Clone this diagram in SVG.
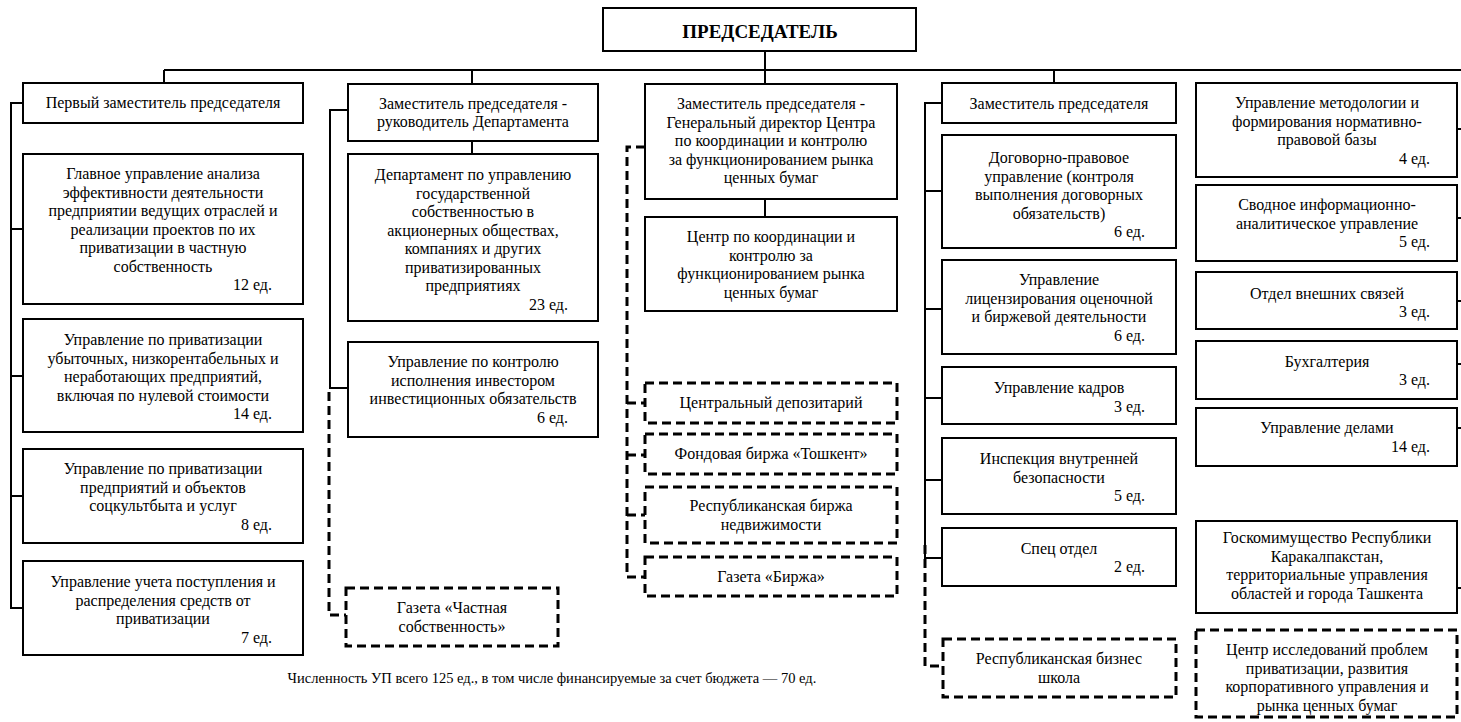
<svg xmlns="http://www.w3.org/2000/svg" width="1461" height="722" viewBox="0 0 1461 722">
<style>
  .b{fill:#fff;stroke:#000;stroke-width:2}
  .d{fill:#fff;stroke:#000;stroke-width:3;stroke-dasharray:9 5}
  .t{font-family:"Liberation Serif","Times New Roman",serif;font-size:16px;fill:#000;text-anchor:middle}
  .r{text-anchor:end}
  .h{font-weight:bold;font-size:19px}
  .f{font-size:14.5px}
  .c{fill:none;stroke:#000;stroke-width:2}
  .cd{fill:none;stroke:#000;stroke-width:3;stroke-dasharray:9 5}
</style>
<rect width="1461" height="722" fill="#fff"/>
<g id="connectors">
  <path class="c" d="M164,70 H1461 M765,51 V84 M164,70 V83 M472,70 V84 M1054,70 V83 M472,141 V154 M765,199 V217"/>
  <path class="c" d="M23,103 H11 V608 H23 M11,229 H23 M11,376 H23 M11,496 H23"/>
  <path class="c" d="M348,110 H330 V388 H348"/>
  <path class="cd" d="M329,392 V615 H346"/>
  <path class="cd" d="M645,147 H627 V577 H645 M627,403 H645 M627,455 H645 M627,515 H645"/>
  <path class="c" d="M942,103 H925 V558 H942 M925,191 H942 M925,309 H942 M925,398 H942 M925,480 H942"/>
  <path class="cd" d="M925,545 V666 H943"/>
  <path class="c" d="M1457,129 H1461 M1457,218 H1461 M1457,301 H1461 M1457,364 H1461 M1457,428 H1461 M1457,588 H1461"/>
</g>
<g id="chair"><rect class="b" x="603" y="8" width="313" height="43"/><text class="t h" x="760" y="38">ПРЕДСЕДАТЕЛЬ</text></g>

<g id="c1a"><rect class="b" x="23" y="83" width="280" height="40"/><text class="t" x="163" y="108">Первый заместитель председателя</text></g>
<g id="c1b"><rect class="b" x="23" y="154" width="280" height="150"/>
  <text class="t" x="163" y="179">Главное управление анализа</text>
  <text class="t" x="163" y="197.5">эффективности деятельности</text>
  <text class="t" x="163" y="216">предприятии ведущих отраслей и</text>
  <text class="t" x="163" y="234.5">реализации проектов по их</text>
  <text class="t" x="163" y="253">приватизации в частную</text>
  <text class="t" x="163" y="271.5">собственность</text>
  <text class="t r" x="272" y="290">12 ед.</text></g>
<g id="c1c"><rect class="b" x="23" y="319" width="280" height="113"/>
  <text class="t" x="163" y="345">Управление по приватизации</text>
  <text class="t" x="163" y="363.5">убыточных, низкорентабельных и</text>
  <text class="t" x="163" y="382">неработающих предприятий,</text>
  <text class="t" x="163" y="400.5">включая по нулевой стоимости</text>
  <text class="t r" x="272" y="419">14 ед.</text></g>
<g id="c1d"><rect class="b" x="23" y="449" width="280" height="94"/>
  <text class="t" x="163" y="474">Управление по приватизации</text>
  <text class="t" x="163" y="492.5">предприятий и объектов</text>
  <text class="t" x="163" y="511">соцкультбыта и услуг</text>
  <text class="t r" x="272" y="529.5">8 ед.</text></g>
<g id="c1e"><rect class="b" x="23" y="561" width="280" height="94"/>
  <text class="t" x="163" y="587">Управление учета поступления и</text>
  <text class="t" x="163" y="605.5">распределения средств от</text>
  <text class="t" x="163" y="624">приватизации</text>
  <text class="t r" x="272" y="642.5">7 ед.</text></g>

<g id="c2a"><rect class="b" x="348" y="84" width="250" height="57"/>
  <text class="t" x="473" y="108.5">Заместитель председателя -</text>
  <text class="t" x="473" y="127">руководитель Департамента</text></g>
<g id="c2b"><rect class="b" x="348" y="154" width="250" height="167"/>
  <text class="t" x="473" y="180">Департамент по управлению</text>
  <text class="t" x="473" y="198.5">государственной</text>
  <text class="t" x="473" y="217">собственностью в</text>
  <text class="t" x="473" y="235.5">акционерных обществах,</text>
  <text class="t" x="473" y="254">компаниях и других</text>
  <text class="t" x="473" y="272.5">приватизированных</text>
  <text class="t" x="473" y="291">предприятиях</text>
  <text class="t r" x="568" y="309.5">23 ед.</text></g>
<g id="c2c"><rect class="b" x="348" y="342" width="250" height="95"/>
  <text class="t" x="473" y="367">Управление по контролю</text>
  <text class="t" x="473" y="385.5">исполнения инвестором</text>
  <text class="t" x="473" y="404">инвестиционных обязательств</text>
  <text class="t r" x="568" y="422.5">6 ед.</text></g>
<g id="c2d"><rect class="d" x="346" y="588" width="212" height="58"/>
  <text class="t" x="452" y="613">Газета «Частная</text>
  <text class="t" x="452" y="631.5">собственность»</text></g>

<g id="c3a"><rect class="b" x="645" y="84" width="252" height="115"/>
  <text class="t" x="771" y="109">Заместитель председателя -</text>
  <text class="t" x="771" y="127.5">Генеральный директор Центра</text>
  <text class="t" x="771" y="146">по координации и контролю</text>
  <text class="t" x="771" y="164.5">за функционированием рынка</text>
  <text class="t" x="771" y="183">ценных бумаг</text></g>
<g id="c3b"><rect class="b" x="645" y="217" width="252" height="94"/>
  <text class="t" x="771" y="242">Центр по координации и</text>
  <text class="t" x="771" y="260.5">контролю за</text>
  <text class="t" x="771" y="279">функционированием рынка</text>
  <text class="t" x="771" y="297.5">ценных бумаг</text></g>
<g id="c3c"><rect class="d" x="645" y="383" width="252" height="40"/>
  <text class="t" x="771" y="408">Центральный депозитарий</text></g>
<g id="c3d"><rect class="d" x="645" y="434" width="252" height="40"/>
  <text class="t" x="771" y="459">Фондовая биржа «Тошкент»</text></g>
<g id="c3e"><rect class="d" x="645" y="487" width="252" height="56"/>
  <text class="t" x="771" y="511">Республиканская биржа</text>
  <text class="t" x="771" y="529.5">недвижимости</text></g>
<g id="c3f"><rect class="d" x="645" y="557" width="252" height="39"/>
  <text class="t" x="771" y="582">Газета «Биржа»</text></g>

<g id="c4a"><rect class="b" x="942" y="83" width="234" height="40"/>
  <text class="t" x="1059" y="108.5">Заместитель председателя</text></g>
<g id="c4b"><rect class="b" x="942" y="135" width="234" height="113"/>
  <text class="t" x="1059" y="163">Договорно-правовое</text>
  <text class="t" x="1059" y="181.5">управление (контроля</text>
  <text class="t" x="1059" y="200">выполнения договорных</text>
  <text class="t" x="1059" y="218.5">обязательств)</text>
  <text class="t r" x="1145" y="237">6 ед.</text></g>
<g id="c4c"><rect class="b" x="942" y="260" width="234" height="94"/>
  <text class="t" x="1059" y="285">Управление</text>
  <text class="t" x="1059" y="303.5">лицензирования оценочной</text>
  <text class="t" x="1059" y="322">и биржевой деятельности</text>
  <text class="t r" x="1145" y="340.5">6 ед.</text></g>
<g id="c4d"><rect class="b" x="942" y="367" width="234" height="57"/>
  <text class="t" x="1059" y="393">Управление кадров</text>
  <text class="t r" x="1145" y="411.5">3 ед.</text></g>
<g id="c4e"><rect class="b" x="942" y="438" width="234" height="76"/>
  <text class="t" x="1059" y="464">Инспекция внутренней</text>
  <text class="t" x="1059" y="482.5">безопасности</text>
  <text class="t r" x="1145" y="501">5 ед.</text></g>
<g id="c4f"><rect class="b" x="942" y="528" width="234" height="58"/>
  <text class="t" x="1059" y="553.5">Спец отдел</text>
  <text class="t r" x="1145" y="572">2 ед.</text></g>
<g id="c4g"><rect class="d" x="943" y="639" width="233" height="58"/>
  <text class="t" x="1059" y="664">Республиканская бизнес</text>
  <text class="t" x="1059" y="682.5">школа</text></g>

<g id="c5a"><rect class="b" x="1196" y="83" width="261" height="94"/>
  <text class="t" x="1327" y="108">Управление методологии и</text>
  <text class="t" x="1327" y="126.5">формирования нормативно-</text>
  <text class="t" x="1327" y="145">правовой базы</text>
  <text class="t r" x="1430" y="163.5">4 ед.</text></g>
<g id="c5b"><rect class="b" x="1196" y="185" width="261" height="76"/>
  <text class="t" x="1327" y="210">Сводное информационно-</text>
  <text class="t" x="1327" y="228.5">аналитическое управление</text>
  <text class="t r" x="1430" y="247">5 ед.</text></g>
<g id="c5c"><rect class="b" x="1196" y="272" width="261" height="57"/>
  <text class="t" x="1327" y="298.5">Отдел внешних связей</text>
  <text class="t r" x="1430" y="317">3 ед.</text></g>
<g id="c5d"><rect class="b" x="1196" y="341" width="261" height="58"/>
  <text class="t" x="1327" y="366.5">Бухгалтерия</text>
  <text class="t r" x="1430" y="385">3 ед.</text></g>
<g id="c5e"><rect class="b" x="1196" y="408" width="261" height="58"/>
  <text class="t" x="1327" y="433">Управление делами</text>
  <text class="t r" x="1430" y="451.5">14 ед.</text></g>
<g id="c5f"><rect class="b" x="1196" y="521" width="261" height="92"/>
  <text class="t" x="1327" y="543">Госкомимущество Республики</text>
  <text class="t" x="1327" y="561.5">Каракалпакстан,</text>
  <text class="t" x="1327" y="580">территориальные управления</text>
  <text class="t" x="1327" y="598.5">областей и города Ташкента</text></g>
<g id="c5g"><rect class="d" x="1196" y="630" width="261" height="87"/>
  <text class="t" x="1327" y="655">Центр исследований проблем</text>
  <text class="t" x="1327" y="673.5">приватизации, развития</text>
  <text class="t" x="1327" y="692">корпоративного управления и</text>
  <text class="t" x="1327" y="710.5">рынка ценных бумаг</text></g>

<text class="t f" x="552" y="683">Численность УП всего 125 ед., в том числе финансируемые за счет бюджета — 70 ед.</text>
</svg>
